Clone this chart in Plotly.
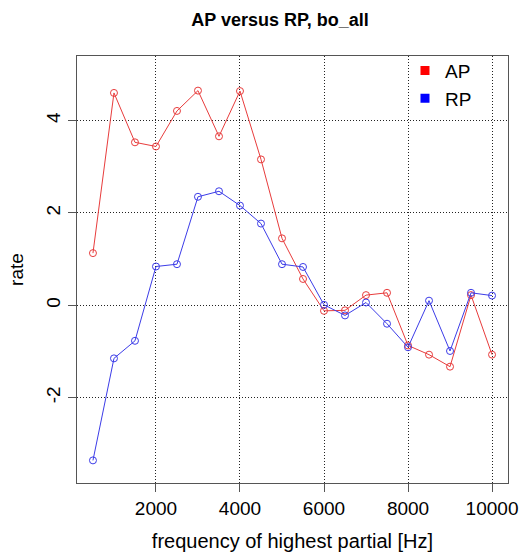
import plotly.graph_objects as go

freq = [500, 1000, 1500, 2000, 2500, 3000, 3500, 4000, 4500, 5000,
        5500, 6000, 6500, 7000, 7500, 8000, 8500, 9000, 9500, 10000]
ap = [1.13, 4.60, 3.53, 3.44, 4.21, 4.65, 3.66, 4.64, 3.16, 1.45,
      0.57, -0.12, -0.11, 0.22, 0.27, -0.87, -1.07, -1.33, 0.22, -1.07]
rp = [-3.36, -1.15, -0.77, 0.84, 0.89, 2.35, 2.47, 2.16, 1.77, 0.89,
      0.83, 0.01, -0.22, 0.06, -0.40, -0.91, 0.10, -0.99, 0.27, 0.21]
x_ticks = [2000, 4000, 6000, 8000, 10000]
y_ticks = [-2, 0, 2, 4]

red = "#e83c3c"
blue = "#3c3ce8"

fig = go.Figure()
for name, vals, col in [("AP", ap, red), ("RP", rp, blue)]:
    fig.add_trace(go.Scatter(x=freq, y=vals, mode="lines+markers", name=name,
                             line=dict(color=col, width=1),
                             marker=dict(symbol="circle-open", size=7, color=col, line=dict(width=1)),
                             showlegend=False))
for name, col in [("AP", "#ff0000"), ("RP", "#0000ff")]:
    fig.add_trace(go.Scatter(x=[None], y=[None], mode="markers", name=name,
                             marker=dict(symbol="square", size=9, color=col)))

axis_common = dict(showline=True, linecolor="#555", linewidth=1, mirror=True,
                   ticks="outside", ticklen=8, tickcolor="#555",
                   showgrid=True, gridcolor="#222", griddash="1px,2px", gridwidth=1,
                   zeroline=False, automargin=False, tickfont=dict(size=19, color="black"))

fig.update_layout(
    width=520, height=557,
    margin=dict(l=77, r=12, t=56, b=74),
    paper_bgcolor="white", plot_bgcolor="white",
    font=dict(family="Liberation Sans, Arial, sans-serif", color="black"),
    title=dict(text="<b>AP versus RP, bo_all</b>", x=0.471, xref="paper", xanchor="center",
               y=1 - 20 / 557, yanchor="middle", font=dict(size=18)),
    xaxis=dict(range=[120, 10380], tickvals=x_ticks, ticktext=[str(v) for v in x_ticks],
               title=dict(text="frequency of highest partial [Hz]", font=dict(size=20), standoff=16),
               **axis_common),
    yaxis=dict(range=[-3.85, 5.4], tickvals=y_ticks, ticktext=[str(v) for v in y_ticks],
               tickangle=-90,
               title=dict(text="rate", font=dict(size=19), standoff=14),
               **axis_common),
    legend=dict(x=0.761, y=1.01, xanchor="left", yanchor="top", bgcolor="rgba(0,0,0,0)",
                font=dict(size=19), itemwidth=30, tracegroupgap=0),
)

fig.write_html("out.html")
